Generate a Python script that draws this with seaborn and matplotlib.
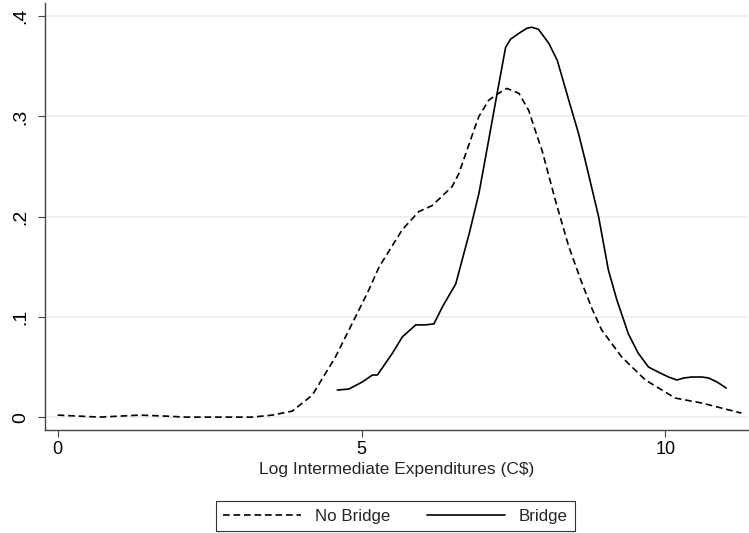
import pandas as pd
import matplotlib.pyplot as plt
import seaborn as sns

# Kernel density values
no_bridge_x = [0.0, 0.69, 1.35, 1.78, 2.1, 3.2, 3.53, 3.86, 4.19, 4.57, 4.9, 5.12,
               5.29, 5.67, 5.94, 6.16, 6.49, 6.6, 6.87, 6.93, 7.09, 7.2, 7.39, 7.59,
               7.75, 7.89, 7.97, 8.19, 8.41, 8.63, 8.8, 8.95, 9.28, 9.67, 10.16,
               10.6, 11.25]
no_bridge_y = [0.002, 0.0, 0.002, 0.001, 0.0, 0.0, 0.002, 0.006, 0.022, 0.06, 0.10, 0.127,
               0.15, 0.187, 0.205, 0.211, 0.230, 0.243, 0.290, 0.300, 0.316, 0.321, 0.328, 0.323,
               0.306, 0.280, 0.266, 0.216, 0.170, 0.133, 0.107, 0.087, 0.060, 0.037, 0.019,
               0.014, 0.004]

bridge_x = [4.6, 4.79, 5.01, 5.18, 5.26, 5.51, 5.67, 5.89, 6.05, 6.19, 6.33, 6.55,
            6.77, 6.93, 7.09, 7.23, 7.37, 7.45, 7.59, 7.72, 7.8, 7.91, 8.08, 8.22,
            8.41, 8.57, 8.68, 8.9, 9.06, 9.2, 9.39, 9.55, 9.72, 9.88, 10.05, 10.19,
            10.3, 10.43, 10.6, 10.71, 10.85, 11.0]
bridge_y = [0.027, 0.028, 0.035, 0.042, 0.042, 0.064, 0.080, 0.092, 0.092, 0.093, 0.110, 0.133,
            0.183, 0.223, 0.276, 0.323, 0.369, 0.377, 0.383, 0.388, 0.389, 0.387, 0.373, 0.356,
            0.316, 0.283, 0.256, 0.200, 0.147, 0.117, 0.083, 0.064, 0.050, 0.045, 0.040, 0.037,
            0.039, 0.040, 0.040, 0.039, 0.035, 0.029]

x_ticks = [0, 5, 10]
y_ticks = [0, 0.1, 0.2, 0.3, 0.4]
y_tick_labels = ["0", ".1", ".2", ".3", ".4"]

df = pd.concat([
    pd.DataFrame({"x": no_bridge_x, "y": no_bridge_y, "group": "No Bridge"}),
    pd.DataFrame({"x": bridge_x, "y": bridge_y, "group": "Bridge"}),
])

sns.set_style("white")
plt.rcParams["font.family"] = ["Liberation Sans", "DejaVu Sans"]

fig = plt.figure(figsize=(7.49, 5.33), dpi=100)
ax = fig.add_axes([0.060, 0.193, 0.938, 0.801])

# light gridlines behind the curves
for yt in y_ticks:
    ax.axhline(yt, color="#e6eef1", lw=1.2, zorder=0)

sns.lineplot(data=df, x="x", y="y", style="group", color="black",
             dashes={"No Bridge": (4.0, 2.3), "Bridge": ""},
             linewidth=1.2, sort=False, estimator=None, ax=ax)

ax.set_xlim(-0.21, 11.35)
ax.set_ylim(-0.013, 0.413)
ax.set_xticks(x_ticks)
ax.set_xticklabels([str(t) for t in x_ticks])
ax.set_yticks(y_ticks)
ax.set_yticklabels(y_tick_labels, rotation=90, va="center")
ax.tick_params(axis="both", direction="out", length=5, width=0.8, colors="#444444",
               labelcolor="black", bottom=True, left=True)
ax.tick_params(axis="x", labelsize=13, pad=3)
ax.tick_params(axis="y", labelsize=14, pad=6)
ax.set_xlabel("Log Intermediate Expenditures (C$)", fontsize=12.5, labelpad=3)
ax.set_ylabel("")

for side in ["top", "right"]:
    ax.spines[side].set_visible(False)
for side in ["left", "bottom"]:
    ax.spines[side].set_color("#444444")
    ax.spines[side].set_linewidth(1.0)

ax.legend_.remove()
handles, labels = ax.get_legend_handles_labels()
leg = fig.legend(handles, labels, loc="center", bbox_to_anchor=(0.528, 0.0315), ncol=2,
                 frameon=True, fancybox=False, edgecolor="black", fontsize=12.2,
                 handlelength=4.6, columnspacing=2.2, borderpad=0.45)
leg.get_frame().set_linewidth(0.8)

fig.savefig("out.png", dpi=100)
